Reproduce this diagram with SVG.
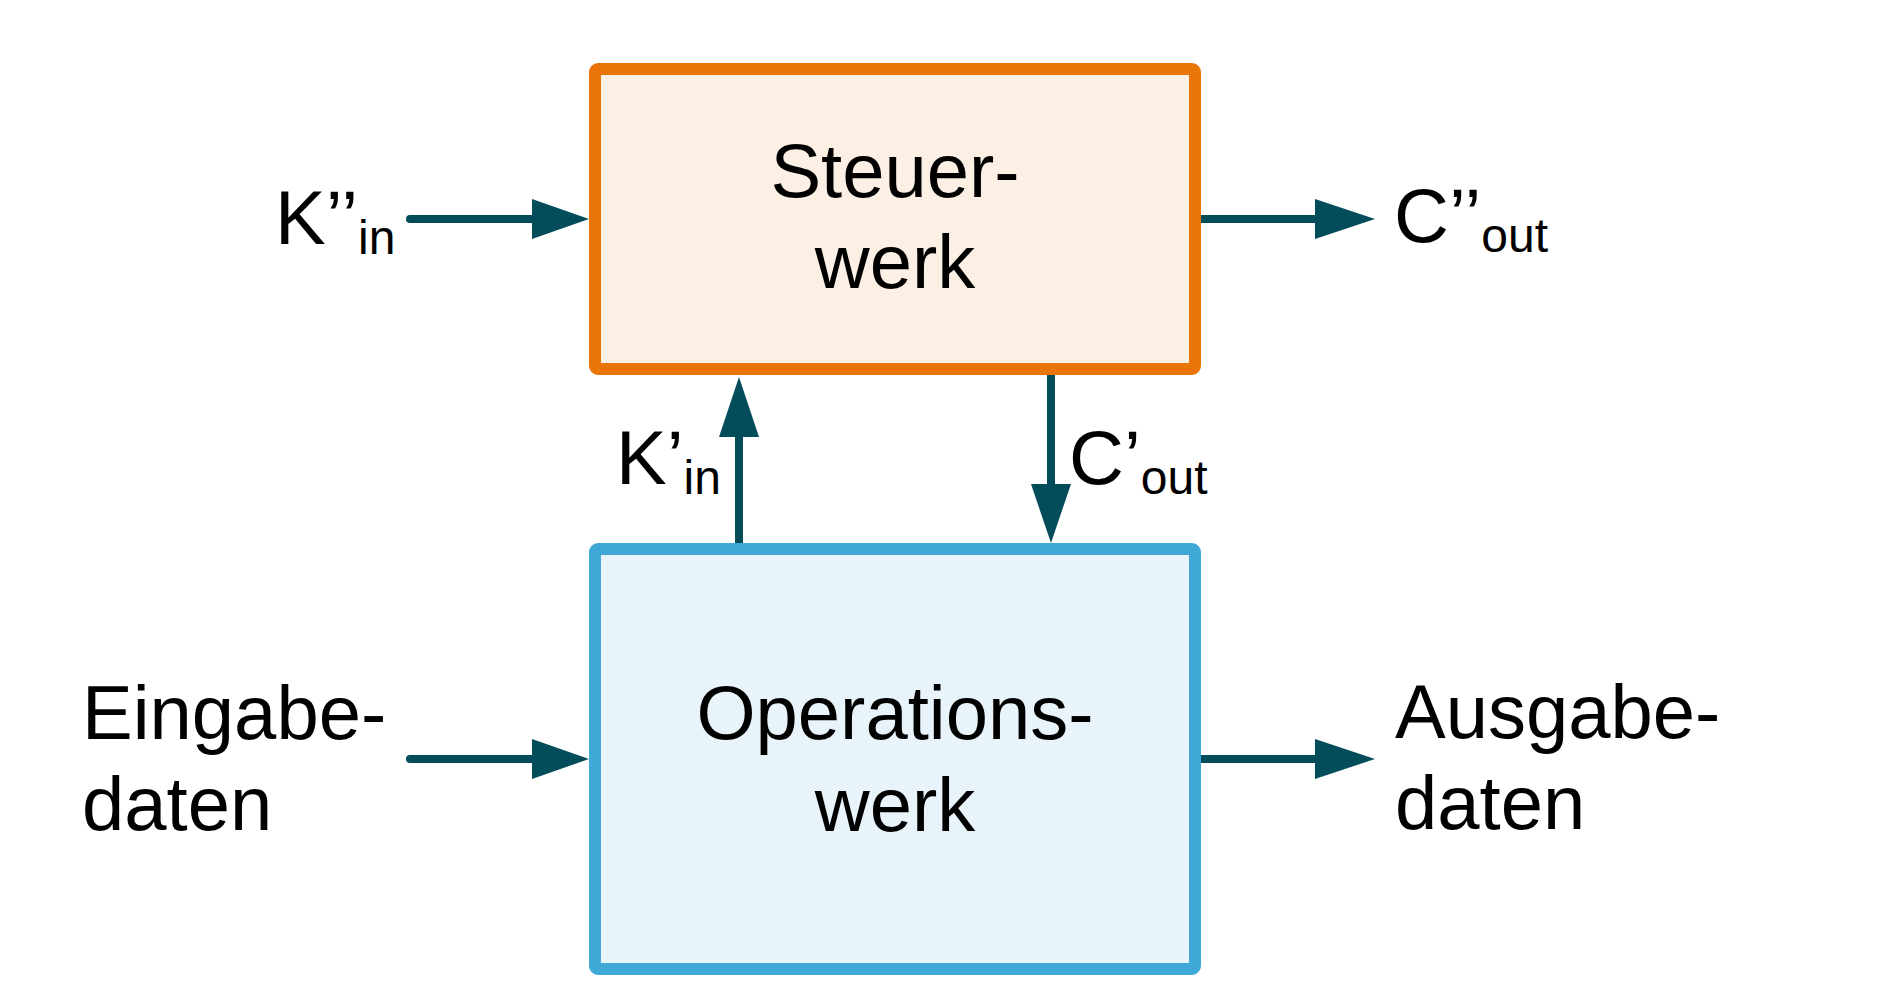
<svg xmlns="http://www.w3.org/2000/svg" width="1890" height="1000" viewBox="0 0 1890 1000">
<style>
text{font-family:"Liberation Sans",Arial,sans-serif;font-size:76px;fill:#000}
.sub{font-size:48px}
.mid{text-anchor:middle}
.box-o{fill:#FCF0E5;stroke:#E97408;stroke-width:12}
.box-b{fill:#E8F4FA;stroke:#3FA8D6;stroke-width:12}
.con{stroke:#034D5B;stroke-width:8;fill:none;stroke-linecap:round}
.head{fill:#034D5B}
</style>
<rect width="1890" height="1000" fill="#ffffff"/>
<g id="steuerwerk">
<rect class="box-o" x="595" y="69" width="600" height="300" rx="3"/>
<text class="mid" x="895" y="197">Steuer-</text>
<text class="mid" x="895" y="288">werk</text>
</g>
<g id="operationswerk">
<rect class="box-b" x="595" y="549" width="600" height="420" rx="3"/>
<text class="mid" x="895" y="739">Operations-</text>
<text class="mid" x="895" y="831">werk</text>
</g>
<g id="connectors">
<line class="con" x1="410" y1="219" x2="535" y2="219"/>
<polygon class="head" points="532,199 589,219 532,239"/>
<line class="con" x1="1201" y1="219" x2="1318" y2="219" style="stroke-linecap:butt"/>
<polygon class="head" points="1315,199 1375,219 1315,239"/>
<line class="con" x1="410" y1="759" x2="535" y2="759"/>
<polygon class="head" points="532,739 589,759 532,779"/>
<line class="con" x1="1201" y1="759" x2="1318" y2="759" style="stroke-linecap:butt"/>
<polygon class="head" points="1315,739 1375,759 1315,779"/>
<line class="con" x1="739" y1="543" x2="739" y2="433" style="stroke-linecap:butt"/>
<polygon class="head" points="719,437 739,377 759,437"/>
<line class="con" x1="1051" y1="375" x2="1051" y2="488" style="stroke-linecap:butt"/>
<polygon class="head" points="1031,484 1051,543 1071,484"/>
</g>
<g id="label-k2in"><text x="275" y="244">K’’<tspan class="sub" dy="10">in</tspan></text></g>
<g id="label-c2out"><text x="1394" y="242">C’’<tspan class="sub" dy="10">out</tspan></text></g>
<g id="label-k1in"><text x="616" y="484">K’<tspan class="sub" dy="10">in</tspan></text></g>
<g id="label-c1out"><text x="1069" y="484">C’<tspan class="sub" dy="10">out</tspan></text></g>
<g id="label-eingabe">
<text x="82" y="739">Eingabe-</text>
<text x="82" y="830">daten</text>
</g>
<g id="label-ausgabe">
<text x="1395" y="738">Ausgabe-</text>
<text x="1395" y="829">daten</text>
</g>
</svg>
